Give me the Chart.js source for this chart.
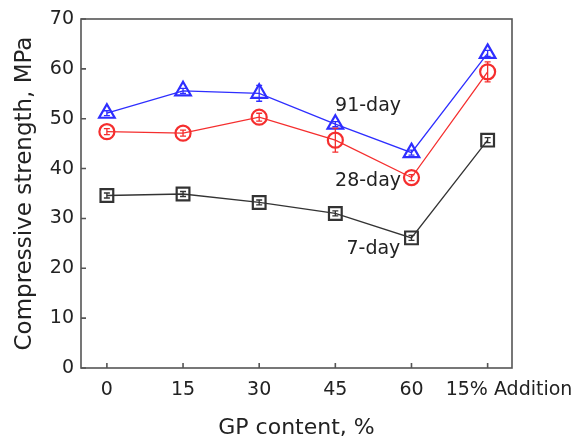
<!DOCTYPE html>
<html>
<head>
<meta charset="utf-8">
<script src="https://cdn.jsdelivr.net/npm/chart.js@4.4.0/dist/chart.umd.min.js"></script>
<style>
  html, body { margin: 0; padding: 0; background: #fff; }
  #wrap { width: 587px; height: 441px; }
</style>
</head>
<body>
<div id="wrap"><canvas id="strength-chart"></canvas></div>
<script>
const categories = ['0', '15', '30', '45', '60', '15% Addition']
const day91 = [51.1, 55.6, 55.1, 48.9, 43.2, 63.1]
const day91_err = [0.5, 0.5, 1.6, 0.5, 0.5, 0.6]
const day28 = [47.4, 47.1, 50.3, 45.7, 38.2, 59.4]
const day28_err = [0.6, 0.6, 0.8, 2.4, 0.6, 2.0]
const day7 = [34.6, 34.9, 33.2, 31.0, 26.1, 45.7]
const day7_err = [0.5, 0.5, 0.5, 0.5, 0.5, 0.5]
const yTicks = [0, 10, 20, 30, 40, 50, 60, 70]

const font = "'DejaVu Sans', 'Liberation Sans', Arial, sans-serif"
const blue = '#2e2eff'
const red = '#f52e2e'
const black = '#333333'

function pts(values) {
  return values.map((v, i) => ({ x: i, y: v }))
}

// error bars, inward ticks, frame, x labels, curve labels
const extras = {
  id: 'extras',
  afterDatasetsDraw(chart) {
    const ctx = chart.ctx
    const xs = chart.scales.x
    const ys = chart.scales.y
    const area = chart.chartArea
    ctx.save()
    chart.data.datasets.forEach(ds => {
      ctx.strokeStyle = ds.borderColor
      ctx.lineWidth = 1.3
      ds.err.forEach((e, i) => {
        const px = xs.getPixelForValue(i)
        const top = ys.getPixelForValue(ds.data[i].y + e)
        const bot = ys.getPixelForValue(ds.data[i].y - e)
        ctx.beginPath()
        ctx.moveTo(px, top); ctx.lineTo(px, bot)
        ctx.moveTo(px - 3, top); ctx.lineTo(px + 3, top)
        ctx.moveTo(px - 3, bot); ctx.lineTo(px + 3, bot)
        ctx.stroke()
      })
    })
    // frame
    ctx.strokeStyle = '#555'
    ctx.lineWidth = 1.6
    ctx.strokeRect(area.left, area.top, area.right - area.left, area.bottom - area.top)
    // inward ticks
    ctx.beginPath()
    yTicks.forEach(v => {
      const py = ys.getPixelForValue(v)
      ctx.moveTo(area.left, py); ctx.lineTo(area.left + 5, py)
    })
    categories.forEach((c, i) => {
      const px = xs.getPixelForValue(i)
      ctx.moveTo(px, area.bottom); ctx.lineTo(px, area.bottom - 5)
    })
    ctx.stroke()
    // x tick labels (last one sits right of its tick)
    ctx.fillStyle = '#222'
    ctx.font = '19px ' + font
    ctx.textBaseline = 'middle'
    categories.forEach((c, i) => {
      const px = xs.getPixelForValue(i)
      if (i === categories.length - 1) {
        ctx.textAlign = 'left'
        ctx.fillText(c, px - 42, area.bottom + 22)
      } else {
        ctx.textAlign = 'center'
        ctx.fillText(c, px, area.bottom + 22)
      }
    })
    // curve labels
    ctx.textAlign = 'center'
    ctx.fillText('91-day', xs.getPixelForValue(3.43), ys.getPixelForValue(52.6))
    ctx.fillText('28-day', xs.getPixelForValue(3.43), ys.getPixelForValue(37.5))
    ctx.fillText('7-day', xs.getPixelForValue(3.5), ys.getPixelForValue(23.9))
    ctx.restore()
  }
}

function series(label, values, err, color, style, radius) {
  return {
    label: label,
    data: pts(values),
    err: err,
    borderColor: color,
    backgroundColor: 'rgba(0,0,0,0)',
    borderWidth: 1.3,
    pointStyle: style,
    pointRadius: radius,
    pointBorderWidth: 2.2,
    pointBorderColor: color,
    pointBackgroundColor: 'rgba(0,0,0,0)',
    tension: 0
  }
}

const ctx = document.getElementById('strength-chart').getContext('2d')
new Chart(ctx, {
  type: 'line',
  data: {
    datasets: [
      series('91-day', day91, day91_err, blue, 'triangle', 9),
      series('28-day', day28, day28_err, red, 'circle', 7.5),
      series('7-day', day7, day7_err, black, 'rect', 9)
    ]
  },
  options: {
    responsive: true,
    maintainAspectRatio: false,
    animation: { duration: 0 },
    layout: { padding: { left: 0, right: 75, top: 19, bottom: 0 } },
    scales: {
      x: {
        type: 'linear',
        min: -0.34,
        max: 5.32,
        afterBuildTicks: scale => { scale.ticks = categories.map((c, i) => ({ value: i })) },
        afterFit: scale => { scale.height = 73; scale.paddingLeft = 0; scale.paddingRight = 0 },
        grid: { display: false, drawTicks: false },
        border: { display: false },
        ticks: { display: false },
        title: {
          display: true,
          text: 'GP content, %',
          color: '#222',
          font: { family: font, size: 22 },
          padding: { top: 0, bottom: 0 }
        }
      },
      y: {
        min: 0,
        max: 70,
        afterBuildTicks: scale => { scale.ticks = yTicks.map(v => ({ value: v })) },
        afterFit: scale => { scale.width = 81 },
        grid: { display: false, drawTicks: false },
        border: { display: false },
        ticks: {
          color: '#222',
          padding: 7,
          font: { family: font, size: 19 }
        },
        title: {
          display: true,
          text: 'Compressive strength, MPa',
          color: '#222',
          font: { family: font, size: 23 },
          padding: { top: 11, bottom: 0 }
        }
      }
    },
    plugins: {
      legend: { display: false },
      tooltip: { enabled: false }
    }
  },
  plugins: [extras]
})
</script>
</body>
</html>
